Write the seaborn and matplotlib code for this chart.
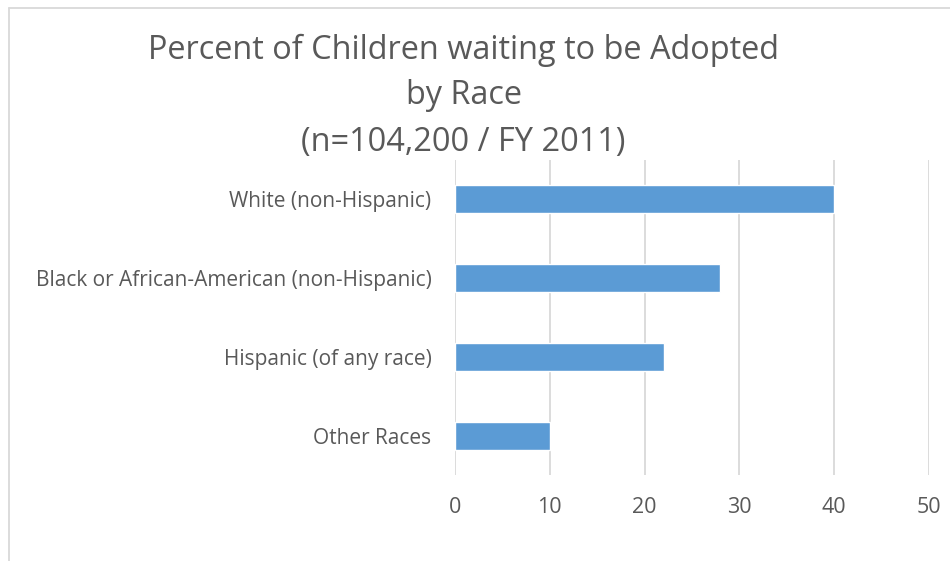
import matplotlib
matplotlib.use("Agg")
import matplotlib.pyplot as plt
from matplotlib.lines import Line2D
import seaborn as sns
import pandas as pd

categories = [
    "White (non-Hispanic)",
    "Black or African-American (non-Hispanic)",
    "Hispanic (of any race)",
    "Other Races",
]
percents = [40, 28, 22, 10]
x_ticks = [0, 10, 20, 30, 40, 50]
title_lines = [
    "Percent of Children waiting to be Adopted",
    "by Race",
    "(n=104,200 / FY 2011)",
]

sns.set_theme(style="white")
plt.rcParams["font.family"] = ["Open Sans", "DejaVu Sans"]

text_gray = "#595959"
grid_gray = "#d9d9d9"
bar_blue = "#5b9bd5"

W, H = 950, 561
df = pd.DataFrame({"category": categories, "percent": percents})

fig = plt.figure(figsize=(W / 100, H / 100), dpi=100)
ax = fig.add_axes([455 / W, 1 - 475 / H, (929 - 455) / W, (475 - 160) / H])

sns.barplot(data=df, x="percent", y="category", orient="h",
            color=bar_blue, width=0.355, saturation=1, ax=ax)

ax.set_xlim(0, 50)
ax.set_ylim(3.5, -0.5)
ax.set_xticks(x_ticks)
ax.set_xticklabels([str(t) for t in x_ticks])
ax.set_xlabel("")
ax.set_ylabel("")
for side in ax.spines:
    ax.spines[side].set_visible(False)
ax.xaxis.grid(True, color=grid_gray, linewidth=1.3)
ax.set_axisbelow(True)
ax.tick_params(axis="x", colors=text_gray, labelsize=15.5, pad=16, length=0)
ax.tick_params(axis="y", colors=text_gray, labelsize=15, pad=17, length=0)

# three-line chart title
for line, y_px in zip(title_lines, [50, 96, 142]):
    fig.text(463.5 / W, 1 - y_px / H, line, ha="center", va="center",
             fontsize=23.4, color=text_gray)

# chart-area frame (top and left edges visible)
fig.add_artist(Line2D([8.5 / W, 8.5 / W], [0, 1 - 7.5 / H],
                      transform=fig.transFigure, color=grid_gray, linewidth=1.3))
fig.add_artist(Line2D([8.5 / W, 1], [1 - 7.5 / H, 1 - 7.5 / H],
                      transform=fig.transFigure, color=grid_gray, linewidth=1.3))

fig.savefig("out.png", dpi=100, facecolor="white")
